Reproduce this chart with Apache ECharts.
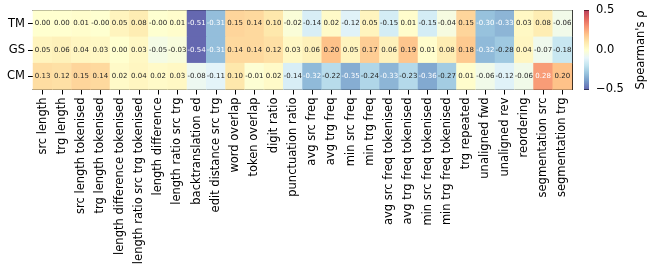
<!DOCTYPE html>
<html>
<head>
<meta charset="utf-8">
<script src="https://cdn.jsdelivr.net/npm/echarts@6/dist/echarts.min.js"></script>
<style>
html,body{margin:0;padding:0;background:#fff;}
#chart{width:648px;height:279px;}
</style>
</head>
<body>
<div id="chart"></div>
<script>
const rows = ['TM', 'GS', 'CM'];
const features = ['src length', 'trg length', 'src length tokenised', 'trg length tokenised',
  'length difference tokenised', 'length ratio src trg tokenised', 'length difference',
  'length ratio src trg', 'backtranslation ed', 'edit distance src trg', 'word overlap',
  'token overlap', 'digit ratio', 'punctuation ratio', 'avg src freq', 'avg trg freq',
  'min src freq', 'min trg freq', 'avg src freq tokenised', 'avg trg freq tokenised',
  'min src freq tokenised', 'min trg freq tokenised', 'trg repeated', 'unaligned fwd',
  'unaligned rev', 'reordering', 'segmentation src', 'segmentation trg'];
const tmValues = [0.00, 0.00, 0.01, -0.003, 0.05, 0.08, -0.003, 0.01, -0.51, -0.31, 0.15, 0.14, 0.10, -0.02,
  -0.14, 0.02, -0.12, 0.05, -0.15, 0.01, -0.15, -0.04, 0.15, -0.30, -0.33, 0.03, 0.08, -0.06];
const gsValues = [0.05, 0.06, 0.04, 0.03, 0.00, 0.03, -0.05, -0.03, -0.54, -0.31, 0.14, 0.14, 0.12, 0.03,
  0.06, 0.20, 0.05, 0.17, 0.06, 0.19, 0.01, 0.08, 0.18, -0.32, -0.28, 0.04, -0.07, -0.18];
const cmValues = [0.13, 0.12, 0.15, 0.14, 0.02, 0.04, 0.02, 0.03, -0.08, -0.11, 0.10, -0.01, 0.02, -0.14,
  -0.32, -0.22, -0.35, -0.24, -0.33, -0.23, -0.36, -0.27, 0.01, -0.06, -0.12, -0.06, 0.28, 0.20];
const colorTicks = [-0.5, 0.0, 0.5];
const vMin = -0.5, vMax = 0.5;

// RdYlBu_r colormap stops
const cmap = ['#313695', '#4575b4', '#74add1', '#abd9e9', '#e0f3f8', '#ffffbf',
  '#fee090', '#fdae61', '#f46d43', '#d73027', '#a50026'];
const ALPHA = 0.75;
function hex2rgb(h) { return [parseInt(h.slice(1,3),16), parseInt(h.slice(3,5),16), parseInt(h.slice(5,7),16)]; }
function rgb2hex(c) { return '#' + c.map(v => Math.round(Math.max(0, Math.min(255, v))).toString(16).padStart(2, '0')).join(''); }
function blend(h) { const c = hex2rgb(h); return rgb2hex(c.map(v => v * ALPHA + 255 * (1 - ALPHA))); }
const blended = cmap.map(blend);
function cmapRGB(v) {
  let t = (v - vMin) / (vMax - vMin); t = Math.max(0, Math.min(1, t));
  const p = t * (cmap.length - 1); const i = Math.min(Math.floor(p), cmap.length - 2); const f = p - i;
  const a = hex2rgb(cmap[i]), b = hex2rgb(cmap[i + 1]);
  return a.map((x, k) => x + (b[k] - x) * f);
}
function lum(c) {
  const l = c.map(v => { v /= 255; return v <= 0.03928 ? v / 12.92 : Math.pow((v + 0.055) / 1.055, 2.4); });
  return 0.2126 * l[0] + 0.7152 * l[1] + 0.0722 * l[2];
}
const allRows = [tmValues, gsValues, cmValues];
const data = [];
allRows.forEach((arr, r) => arr.forEach((v, c) => {
  data.push({ value: [c, r, v], label: { color: lum(cmapRGB(v)) > 0.408 ? '#262626' : '#ffffff' } });
}));

const FONT = 'DejaVu Sans';
const G = { left: 33, top: 10.5, width: 539, height: 79 };
const CB = { left: 584, top: 10.5, width: 5, height: 79 };

const chart = echarts.init(document.getElementById('chart'), null, { renderer: 'canvas' });
chart.setOption({
  animation: false,
  backgroundColor: '#ffffff',
  textStyle: { fontFamily: FONT },
  grid: [
    { left: G.left, top: G.top, width: G.width, height: G.height, containLabel: false },
    { left: CB.left, top: CB.top, width: CB.width, height: CB.height, containLabel: false }
  ],
  xAxis: [
    { type: 'category', data: features, gridIndex: 0, position: 'bottom',
      axisLine: { show: true, lineStyle: { color: '#000', width: 1 } },
      axisTick: { show: true, alignWithLabel: true, length: 5, lineStyle: { color: '#000' } },
      axisLabel: { rotate: 90, interval: 0, margin: 8, fontSize: 11.5, color: '#000', fontFamily: FONT },
      splitLine: { show: false } },
    { type: 'category', data: features, gridIndex: 0, position: 'top',
      axisLine: { show: true, lineStyle: { color: '#000', width: 1 } },
      axisTick: { show: false }, axisLabel: { show: false }, splitLine: { show: false } },
    { type: 'value', gridIndex: 1, show: false, min: 0, max: 1 }
  ],
  yAxis: [
    { type: 'category', data: rows, inverse: true, gridIndex: 0, position: 'left',
      axisLine: { show: true, lineStyle: { color: '#000', width: 1 } },
      axisTick: { show: true, alignWithLabel: true, length: 5, lineStyle: { color: '#000' } },
      axisLabel: { margin: 8, fontSize: 11.5, color: '#000', fontFamily: FONT },
      splitLine: { show: false } },
    { type: 'category', data: rows, inverse: true, gridIndex: 0, position: 'right',
      axisLine: { show: true, lineStyle: { color: '#000', width: 1 } },
      axisTick: { show: false }, axisLabel: { show: false }, splitLine: { show: false } },
    { type: 'value', gridIndex: 1, position: 'right', min: vMin, max: vMax, interval: 0.5,
      axisLine: { show: false },
      axisTick: { show: true, length: 5, lineStyle: { color: '#000' } },
      axisLabel: { margin: 7, fontSize: 11.5, color: '#000', fontFamily: FONT,
        formatter: v => (v < 0 ? '\u2212' : '') + Math.abs(v).toFixed(1) },
      splitLine: { show: false },
      name: "Spearman's \u03c1", nameLocation: 'middle', nameRotate: 90, nameGap: 46,
      nameTextStyle: { fontSize: 11.5, color: '#000', fontFamily: FONT } }
  ],
  visualMap: { show: false, type: 'continuous', min: vMin, max: vMax, dimension: 2, seriesIndex: 0,
    inRange: { color: blended } },
  graphic: [{
    type: 'rect', z: 1, silent: true,
    shape: { x: CB.left, y: CB.top, width: CB.width, height: CB.height },
    style: { fill: { type: 'linear', x: 0, y: 1, x2: 0, y2: 0,
      colorStops: blended.map((c, i) => ({ offset: i / (blended.length - 1), color: c })) } }
  }],
  series: [{
    type: 'heatmap', xAxisIndex: 0, yAxisIndex: 0, data: data,
    label: { show: true, fontSize: 7, fontFamily: FONT,
      formatter: p => p.value[2].toFixed(2) },
    itemStyle: { borderWidth: 0 },
    emphasis: { disabled: true }
  }]
});
</script>
</body>
</html>
